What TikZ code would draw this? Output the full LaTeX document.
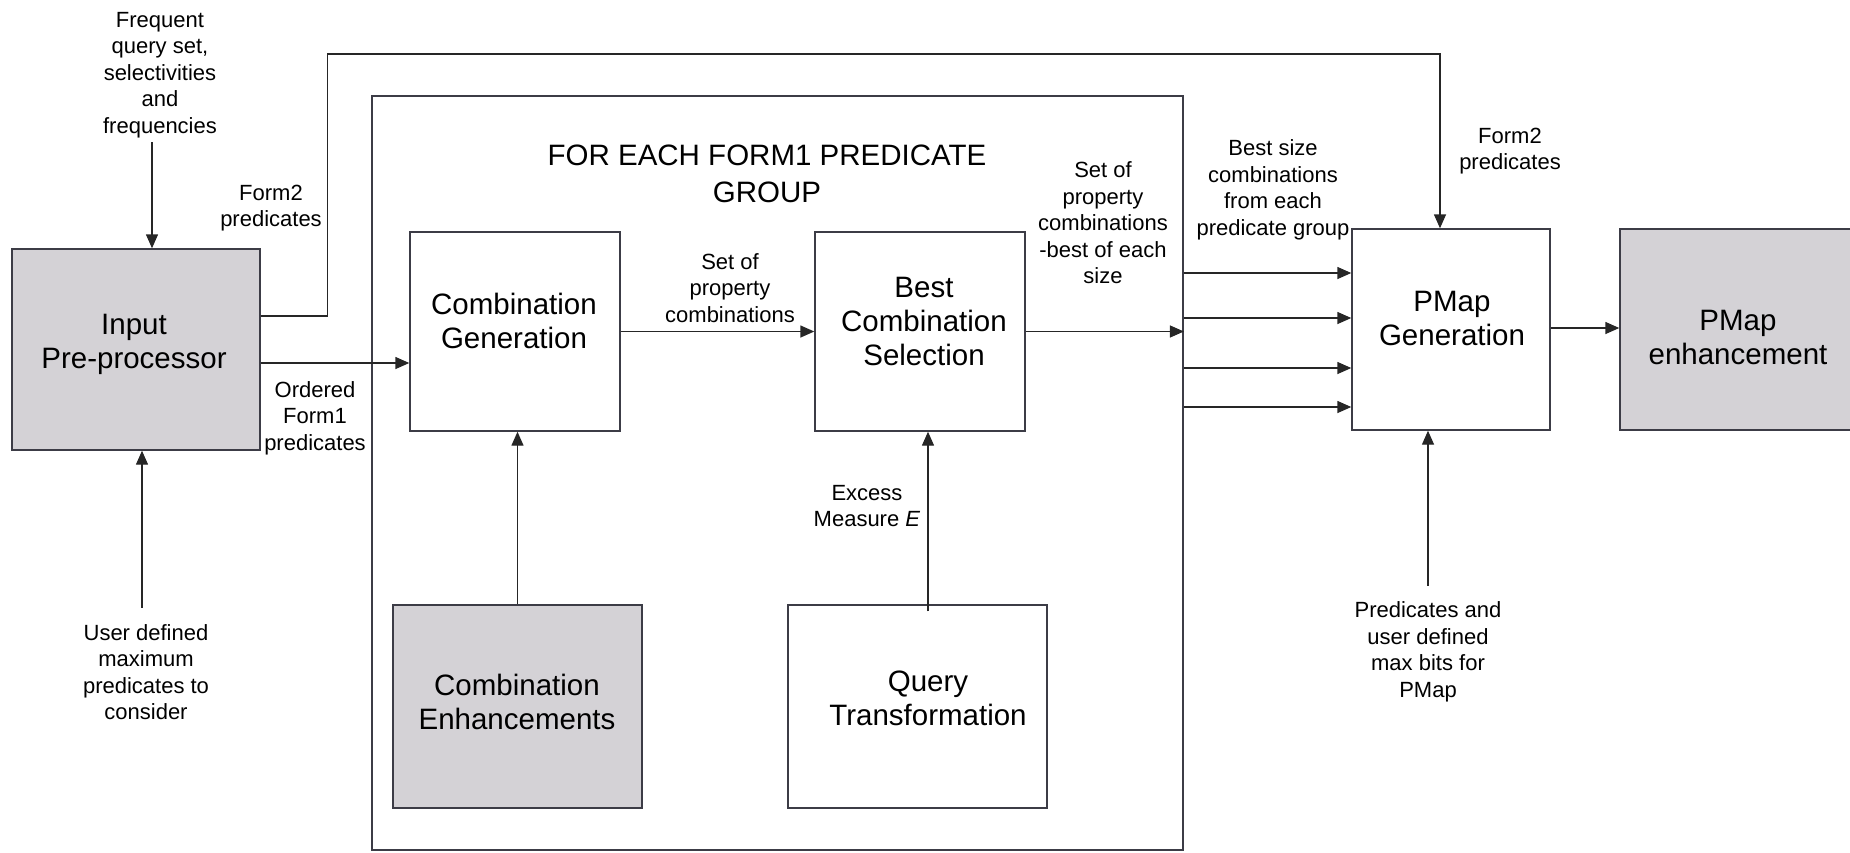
\documentclass[tikz,border=0pt]{standalone}
\usepackage{fontspec}
\setmainfont{Liberation Sans}
\usetikzlibrary{arrows.meta}
\definecolor{boxfill}{RGB}{212,210,214}
\definecolor{edge}{RGB}{60,60,70}
\begin{document}
\begin{tikzpicture}[x=1pt,y=-1pt,
  box/.style={draw=edge, line width=1.4pt, inner sep=0pt},
  gbox/.style={box, fill=boxfill},
  btxt/.style={font=\fontsize{29.5}{34}\selectfont, align=center, inner sep=0pt},
  ttxt/.style={font=\fontsize{29.5}{37}\selectfont, align=center, inner sep=0pt},
  lbl/.style={font=\fontsize{22}{26.5}\selectfont, align=center, inner sep=0pt},
  arr/.style={draw=black!85, line width=1.4pt, -{Triangle[length=14pt,width=12pt]}},
  ln/.style={draw=black!85, line width=1.4pt}]
\useasboundingbox (0,0) rectangle (1850,852);

% boxes
\node[box, line width=1.8pt, minimum width=811pt, minimum height=754pt] (outer) at (777.5,473) {};
\node[gbox, minimum width=248pt, minimum height=201pt] (ip) at (136,349.5) {};
\node[box, minimum width=210pt, minimum height=199pt] (cg) at (515,331.5) {};
\node[box, minimum width=210pt, minimum height=199pt] (bcs) at (920,331.5) {};
\node[gbox, minimum width=249pt, minimum height=203pt] (ce) at (517.5,706.5) {};
\node[box, minimum width=259pt, minimum height=203pt] (qt) at (917.5,706.5) {};
\node[box, minimum width=198pt, minimum height=201pt] (pg) at (1451,329.5) {};
\node[gbox, minimum width=236pt, minimum height=201pt] (pe) at (1738,329.5) {};

% box texts
\node[btxt] (ipt) at (134,344) {Input\\Pre-processor};
\node[btxt] (cgt) at (514,321) {Combination\\Generation};
\node[btxt] (bcst) at (924,321) {Best\\Combination\\Selection};
\node[btxt] (cet) at (517,702) {Combination\\Enhancements};
\node[btxt] (qtt) at (928,698) {Query\\Transformation};
\node[btxt] (pgt) at (1452,318) {PMap\\Generation};
\node[btxt] (pet) at (1738,337) {PMap\\enhancement};
\node[ttxt] (title) at (767,174) {FOR EACH FORM1 PREDICATE\\GROUP};

% labels
\node[lbl] (lfreq) at (160,75) {Frequent\\query set,\\selectivities\\and\\frequencies};
\node[lbl] (lform2a) at (271,208) {Form2\\predicates};
\node[lbl] (lord) at (315,418) {Ordered\\Form1\\predicates};
\node[lbl] (luser) at (146,672) {User defined\\maximum\\predicates to\\consider};
\node[lbl] (lset1) at (730,288) {Set of\\property\\combinations};
\node[lbl] (lset2) at (1103,223) {Set of\\property\\combinations\\-best of each\\size};
\node[lbl] (lbest) at (1273,190) {Best size\\combinations\\from each\\predicate group};
\node[lbl] (lform2b) at (1510,151) {Form2\\predicates};
\node[lbl] (lpred) at (1428,652) {Predicates and\\user defined\\max bits for\\PMap};
\node[lbl] (lexc) at (867,506) {Excess\\Measure \textit{E}};

% connectors
\draw[arr] ([xshift=-8pt,yshift=-4pt]lfreq.south) -- ([xshift=-8pt]lfreq.south |- ip.north);
\draw[arr] ([xshift=-4pt,yshift=16pt]luser.north) -- ([xshift=-4pt]luser.north |- ip.south);
\draw[arr] (ip.east |- 0,316) -- ++(67,0) |- ([xshift=-11pt]pg.north |- 0,54) -- ([xshift=-11pt]pg.north);
\draw[arr] (ip.east |- 0,363) -- (cg.west |- 0,363);
\draw[arr] (cg.east) -- (bcs.west);
\draw[arr] (bcs.east) -- (bcs.east -| outer.east);
\foreach \yy in {273,318,368,407} \draw[arr] (outer.east |- 0,\yy) -- (pg.west |- 0,\yy);
\draw[arr] (pg.east |- 0,328) -- (pe.west |- 0,328);
\draw[arr] (ce.north) -- (ce.north |- cg.south);
\draw[arr] ([xshift=10.5pt,yshift=-7pt]qt.north) -- ([xshift=10.5pt]qt.north |- bcs.south);
\draw[arr] ([yshift=16pt]lpred.north) -- (lpred.north |- pg.south);
\end{tikzpicture}
\end{document}
